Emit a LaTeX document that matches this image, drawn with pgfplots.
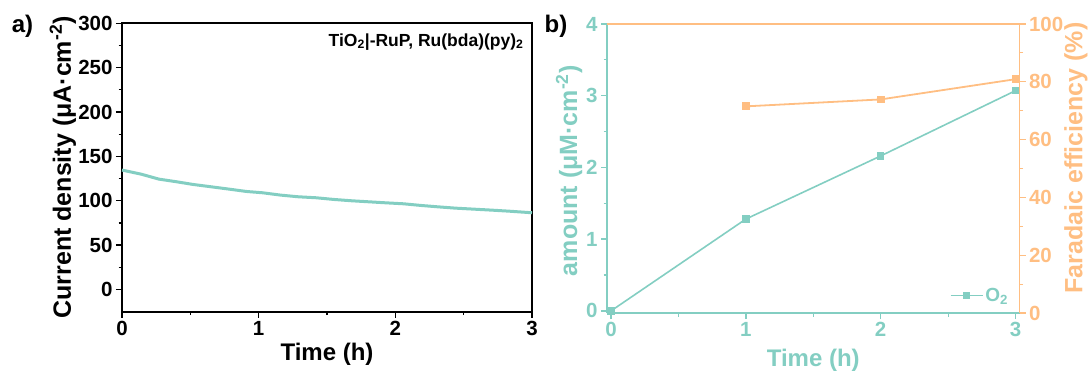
\documentclass[border=0pt]{standalone}
\usepackage{fontspec}
\setmainfont{Liberation Sans}
\usepackage{pgfplots}
\pgfplotsset{compat=1.18}
\definecolor{tealc}{RGB}{131,206,194}
\definecolor{orangec}{RGB}{255,190,130}
\newcommand{\fs}[1]{\fontsize{#1}{#1}\selectfont\bfseries}
\begin{document}
\begin{tikzpicture}[x=1pt,y=1pt]
\useasboundingbox (0pt,0pt) rectangle (1091pt,370pt);
\pgfplotsset{
  common/.style={scale only axis, /pgf/number format/assume math mode=true,
    tick align=outside, major tick length=6pt, minor tick length=3.5pt,
    clip=false},
}
% ---------------- panel a
\begin{axis}[common, at={(122pt,58.3pt)}, anchor=south west,
  width=410pt, height=288.4pt,
  xmin=0, xmax=3, ymin=-25, ymax=300,
  xtick={0,1,2,3}, ytick={0,50,...,300},
  minor x tick num=1, minor y tick num=1,
  xtick pos=bottom, ytick pos=left,
  axis line style={line width=1.6pt, black},
  major tick style={line width=1.3pt, black},
  minor tick style={line width=1.1pt, black},
  tick label style={font=\fs{20.5}, black},
  xlabel={Time (h)},
  ylabel={Current density (μA·cm\textsuperscript{-2})},
  xlabel style={font=\fs{24}, at={(axis description cs:0.5,-0.147)}, anchor=center},
  ylabel style={font=\fs{25}, at={(axis description cs:-0.144,0.5)}, anchor=center},
]
\addplot[tealc, line width=3pt, no marks] coordinates {
(0,134.6) (0.07,132.3) (0.14,130) (0.27,124.4) (0.40,121.4) (0.52,118.4) (0.65,115.8)
(0.78,113.2) (0.91,110.5) (1.03,109) (1.16,106.4) (1.29,104.5) (1.42,103.4)
(1.55,101.5) (1.68,100) (1.80,98.9) (1.93,97.7) (2.06,96.6) (2.19,94.7)
(2.31,93.2) (2.44,91.7) (2.57,90.6) (2.70,89.5) (2.83,88.3) (3.0,86.5)
};
\node[anchor=base east, font=\fs{17.5}] at (axis description cs:0.988,0.921)
  {TiO\textsubscript{2}|-RuP, Ru(bda)(py)\textsubscript{2}};
\end{axis}
\node[font=\fs{24}] at (22.5pt,343.3pt) {a)};
\node[font=\fs{24}] at (556pt,343.3pt) {b)};
% ---------------- panel b, left axis
\begin{axis}[common, at={(607pt,57pt)}, anchor=south west,
  width=412.5pt, height=289pt,
  xmin=-0.03, xmax=3.03, ymin=-0.03, ymax=4,
  xtick={0,1,2,3}, ytick={0,1,2,3,4},
  minor x tick num=1, minor y tick num=1,
  axis x line*=bottom, axis y line*=left,
  axis line style={line width=1.6pt, tealc, -},
  major tick style={line width=1.3pt, tealc},
  minor tick style={line width=1.1pt, tealc},
  tick label style={font=\fs{20.5}, tealc},
  xlabel={Time (h)},
  ylabel={amount (μM·cm\textsuperscript{-2})},
  xlabel style={font=\fs{24}, tealc, at={(axis description cs:0.5,-0.163)}, anchor=center},
  ylabel style={font=\fs{25}, tealc, at={(axis description cs:-0.092,0.492)}, anchor=center},
  legend style={draw=none, fill=none, font=\fs{19}, text=tealc,
    at={(axis description cs:0.985,0.061)}, anchor=east},
  legend image code/.code={\draw[tealc, line width=1.6pt] (0pt,0pt) -- (32pt,0pt);
     \fill[tealc] (13pt,-3pt) rectangle (19pt,3pt);},
]
\addplot[tealc, line width=1.6pt, mark=square*, mark size=3pt] coordinates {
(0,0) (1,1.28) (2,2.16) (3,3.07)
};
\addlegendentry{O\textsubscript{2}}
\end{axis}
% ---------------- panel b, right axis
\begin{axis}[common, at={(607pt,57pt)}, anchor=south west,
  width=412.5pt, height=289pt,
  xmin=-0.03, xmax=3.03, ymin=0, ymax=100,
  xtick=\empty, ytick={0,20,...,100},
  minor y tick num=1,
  axis x line*=top, axis y line*=right,
  axis line style={line width=1.6pt, orangec, -},
  major tick style={line width=1.3pt, orangec},
  minor tick style={line width=1.1pt, orangec},
  tick label style={font=\fs{20.5}, orangec},
  ylabel={Faradaic efficiency (\%)},
  ylabel style={font=\fs{25}, orangec, at={(axis description cs:1.137,0.536)}, anchor=center, rotate=0},
]
\addplot[orangec, line width=1.8pt, mark=square*, mark size=3pt] coordinates {
(1,71.5) (2,73.9) (3,80.9)
};
\end{axis}
\end{tikzpicture}
\end{document}
